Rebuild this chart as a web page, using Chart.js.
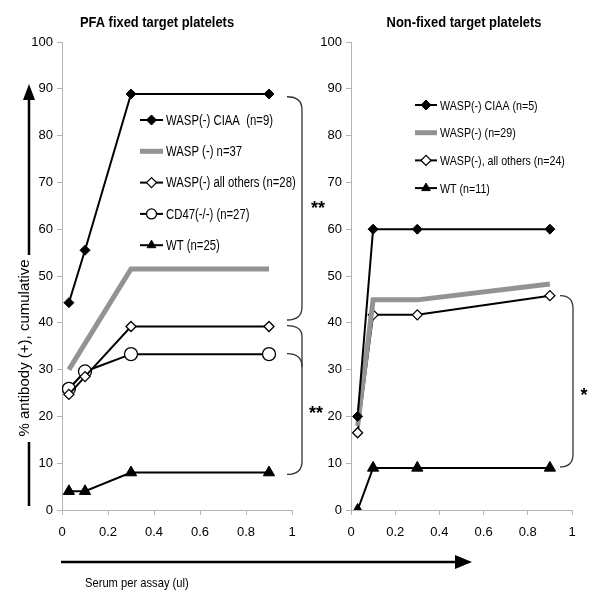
<!DOCTYPE html>
<html><head><meta charset="utf-8">
<script src="https://cdn.jsdelivr.net/npm/chart.js@4"></script>
<style>
html,body{margin:0;padding:0;background:#fff;}
#wrap{position:relative;width:600px;height:594px;overflow:hidden;}
canvas{position:absolute;left:0;top:0;}
</style></head><body>
<div id="wrap"><canvas id="c1" width="600" height="594"></canvas><canvas id="c2" width="600" height="594"></canvas></div>
<script>
// ---- data ----
const xValues = [0.03, 0.1, 0.3, 0.9];
const yTickStep = 10;
const xTickStep = 0.2;

const pfaTitle = 'PFA fixed target platelets';
const pfaLabels = ['WASP(-) CIAA  (n=9)', 'WASP (-) n=37', 'WASP(-) all others (n=28)', 'CD47(-/-) (n=27)', 'WT (n=25)'];
const pfaCIAA   = [44.3, 55.5, 88.9, 88.9];
const pfaWASP   = [30.0, null, 51.5, 51.5];
const pfaOthers = [24.7, 28.5, 39.2, 39.2];
const pfaCD47   = [25.9, 29.6, 33.3, 33.3];
const pfaWT     = [4.0, 4.0, 8.0, 8.0];

const nfTitle = 'Non-fixed target platelets';
const nfLabels = ['WASP(-) CIAA (n=5)', 'WASP(-) (n=29)', 'WASP(-), all others (n=24)', 'WT (n=11)'];
const nfCIAA   = [20.0, 60.0, 60.0, 60.0];
const nfWASP   = [18.0, 44.9, 44.9, 48.3];
const nfOthers = [16.5, 41.7, 41.7, 45.8];
const nfWT     = [0.0, 9.0, 9.0, 9.0];

const yAxisTitle = '% antibody (+), cumulative';
const xAxisTitle = 'Serum per assay (ul)';

// ---- styles ----
const SANS = '"Liberation Sans", Arial, sans-serif';
const AXIS_GRAY = '#b4b4b4';

function pts(arr){ return xValues.map((x,i)=>({x:x, y:arr[i]})); }

const STY = {
  ciaa:   {borderColor:'#000', borderWidth:2, pointStyle:'rectRot', pointRadius:5, pointBackgroundColor:'#000', pointBorderColor:'#000', pointBorderWidth:1},
  wasp:   {borderColor:'#939393', borderWidth:5, pointRadius:0, pointStyle:'line'},
  others: {borderColor:'#000', borderWidth:2, pointStyle:'rectRot', pointRadius:5, pointBackgroundColor:'#fff', pointBorderColor:'#000', pointBorderWidth:1.3},
  cd47:   {borderColor:'#000', borderWidth:2, pointStyle:'circle', pointRadius:6.5, pointBackgroundColor:'#fff', pointBorderColor:'#000', pointBorderWidth:1.3},
  wt:     {borderColor:'#000', borderWidth:2, pointStyle:'triangle', pointRadius:6.5, pointBackgroundColor:'#000', pointBorderColor:'#000', pointBorderWidth:1}
};

function ds(label, arr, sty){
  return Object.assign({label:label, data:pts(arr), tension:0, spanGaps:true, fill:false, pointHoverRadius:0}, sty);
}

function drawMarker(ctx, d, x, y){
  if (!d.pointRadius) return;
  ctx.save();
  ctx.fillStyle = d.pointBackgroundColor;
  ctx.strokeStyle = d.pointBorderColor;
  ctx.lineWidth = d.pointBorderWidth;
  Chart.helpers.drawPoint(ctx, {pointStyle:d.pointStyle, radius:d.pointRadius, borderWidth:d.pointBorderWidth, rotation:0}, x, y);
  ctx.restore();
}

// condensed text: the reference uses a narrow face
function textN(ctx, str, x, y, sx){
  ctx.save();
  ctx.translate(x, y); ctx.scale(sx, 1);
  ctx.fillText(str, 0, 0);
  ctx.restore();
}

function brace(ctx, xl, xr, yTop, yBot, r){
  ctx.beginPath();
  ctx.moveTo(xl, yTop);
  ctx.quadraticCurveTo(xr, yTop, xr, yTop + r);
  ctx.lineTo(xr, yBot - r);
  ctx.quadraticCurveTo(xr, yBot, xl, yBot);
  ctx.stroke();
}

function makeDeco(cfg){
  return {
    id:'deco',
    afterDraw(chart){
      const ctx = chart.ctx, ys = chart.scales.y;
      ctx.save();
      // title
      ctx.fillStyle = '#000';
      ctx.font = 'bold 15px ' + SANS;
      ctx.textAlign = 'center'; ctx.textBaseline = 'middle';
      textN(ctx, cfg.title, cfg.titleX, 23, 0.86);
      // legend
      ctx.font = cfg.legFont + 'px ' + SANS;
      ctx.textAlign = 'left';
      chart.data.datasets.forEach((d, i) => {
        const y = cfg.legTop + i * cfg.legStep;
        ctx.strokeStyle = d.borderColor; ctx.lineWidth = d.borderWidth;
        ctx.beginPath(); ctx.moveTo(cfg.legX, y); ctx.lineTo(cfg.legX + cfg.legLen, y); ctx.stroke();
        drawMarker(ctx, Object.assign({}, d, {pointRadius: d.pointRadius ? Math.min(d.pointRadius, 5) : 0}), cfg.legX + cfg.legLen/2, y);
        ctx.fillStyle = '#000';
        textN(ctx, d.label, cfg.legX + cfg.legLen + 3, y + 1, cfg.legSx);
      });
      // braces and stars
      ctx.strokeStyle = '#333'; ctx.lineWidth = 1.3;
      cfg.braces.forEach(b => {
        if (b.open) {
          const t = ys.getPixelForValue(b.top), e = ys.getPixelForValue(b.bot);
          ctx.beginPath(); ctx.moveTo(b.xl, t);
          ctx.quadraticCurveTo(b.xr, t, b.xr, t + b.r);
          ctx.lineTo(b.xr, e); ctx.stroke();
        } else {
          brace(ctx, b.xl, b.xr, ys.getPixelForValue(b.top), ys.getPixelForValue(b.bot), b.r);
        }
      });
      ctx.fillStyle = '#000';
      ctx.font = 'bold 18px ' + SANS;
      ctx.textAlign = 'center';
      cfg.stars.forEach(s => ctx.fillText(s.t, s.x, s.y));
      if (cfg.figure) {
        // vertical arrow with title
        ctx.strokeStyle = '#000'; ctx.fillStyle = '#000'; ctx.lineWidth = 2.5;
        ctx.beginPath(); ctx.moveTo(29, 506); ctx.lineTo(29, 442); ctx.moveTo(29, 255); ctx.lineTo(29, 97); ctx.stroke();
        ctx.beginPath(); ctx.moveTo(23, 100); ctx.lineTo(29, 84); ctx.lineTo(35, 100); ctx.closePath(); ctx.fill();
        ctx.save();
        ctx.translate(25, 348); ctx.rotate(-Math.PI/2);
        ctx.font = '15px ' + SANS; ctx.textAlign = 'center'; ctx.textBaseline = 'middle';
        ctx.fillText(yAxisTitle, 0, 0);
        ctx.restore();
        // horizontal arrow
        ctx.beginPath(); ctx.moveTo(61, 562); ctx.lineTo(458, 562); ctx.stroke();
        ctx.beginPath(); ctx.moveTo(455, 555); ctx.lineTo(472, 562); ctx.lineTo(455, 569); ctx.closePath(); ctx.fill();
        ctx.font = '13px ' + SANS; ctx.textAlign = 'left'; ctx.textBaseline = 'middle';
        textN(ctx, xAxisTitle, 85, 583, 0.86);
      }
      ctx.restore();
    }
  };
}

function fmt(v){ return String(Number(v.toFixed(2))); }

function scales(){
  return {
    x: {type:'linear', min:0, max:1,
        ticks:{stepSize:xTickStep, color:'#000', font:{family:SANS, size:13}, padding:10, maxRotation:0, callback:fmt},
        grid:{drawOnChartArea:false, drawTicks:true, tickLength:5, color:AXIS_GRAY},
        border:{display:true, color:AXIS_GRAY, width:1},
        afterFit(s){ s.height = 84; }},
    y: {type:'linear', min:0, max:100,
        ticks:{stepSize:yTickStep, color:'#000', font:{family:SANS, size:13}, padding:4, callback:fmt},
        grid:{drawOnChartArea:false, drawTicks:true, tickLength:5, color:AXIS_GRAY},
        border:{display:true, color:AXIS_GRAY, width:1},
        afterFit(s){ s.width = 62; }}
  };
}

function baseOptions(padding){
  return {
    responsive:false, animation:false, devicePixelRatio:1,
    layout:{padding:padding},
    plugins:{legend:{display:false}, tooltip:{enabled:false}, title:{display:false}},
    events:[],
    scales:scales()
  };
}

Chart.defaults.font.family = SANS;

new Chart(document.getElementById('c1'), {
  type:'line',
  data:{datasets:[
    ds(pfaLabels[0], pfaCIAA, STY.ciaa),
    ds(pfaLabels[1], pfaWASP, STY.wasp),
    ds(pfaLabels[2], pfaOthers, STY.others),
    ds(pfaLabels[3], pfaCD47, STY.cd47),
    ds(pfaLabels[4], pfaWT, STY.wt)
  ]},
  options: baseOptions({top:42, right:308, bottom:0, left:0}),
  plugins:[makeDeco({
    title:pfaTitle, titleX:157, legX:140, legLen:23, legTop:120, legStep:31.3, legFont:14, legSx:0.81, figure:true,
    braces:[
      {xl:287, xr:302, top:88.3, bot:40.6, r:13},
      {xl:287, xr:302, top:39.4, bot:30.5, r:11, open:true},
      {xl:287, xr:302, top:33.4, bot:7.6, r:13}
    ],
    stars:[{t:'**', x:318, y:209}, {t:'**', x:316, y:414}]
  })]
});

new Chart(document.getElementById('c2'), {
  type:'line',
  data:{datasets:[
    ds(nfLabels[0], nfCIAA, STY.ciaa),
    ds(nfLabels[1], nfWASP, STY.wasp),
    ds(nfLabels[2], nfOthers, STY.others),
    ds(nfLabels[3], nfWT, STY.wt)
  ]},
  options: baseOptions({top:42, right:28, bottom:0, left:289}),
  plugins:[makeDeco({
    title:nfTitle, titleX:464, legX:415, legLen:22, legTop:105, legStep:27.7, legFont:13, legSx:0.82, figure:false,
    braces:[{xl:560, xr:573, top:45.8, bot:9.2, r:13}],
    stars:[{t:'*', x:584, y:396}]
  })]
});
</script>
</body></html>
